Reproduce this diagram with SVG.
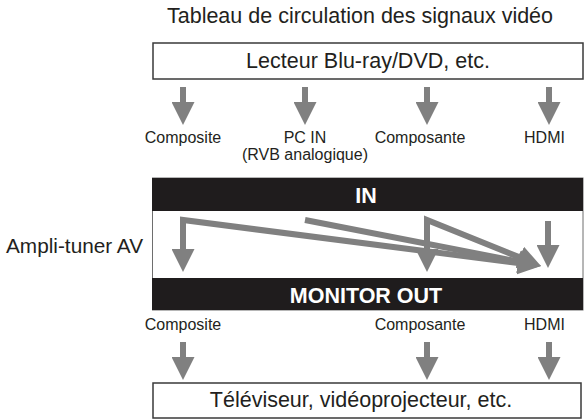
<svg xmlns="http://www.w3.org/2000/svg" width="587" height="420" viewBox="0 0 587 420">
  <style>
    text { font-family: "Liberation Sans", Arial, sans-serif; fill: #231f20; }
    .title { font-size: 21.5px; text-anchor: middle; }
    .big { font-size: 21.5px; text-anchor: middle; }
    .lbl { font-size: 16px; text-anchor: middle; }
    .band { font-size: 21.5px; font-weight: bold; fill: #ffffff; text-anchor: middle; }
    .box { fill: #ffffff; stroke: #3a3a3a; stroke-width: 1.5; }
    .bandrect { fill: #1f1c1d; }
    .arr { fill: none; stroke: #808080; stroke-width: 6; stroke-linejoin: miter; marker-end: url(#head); }
    .arr2 { marker-start: url(#head); }
  </style>
  <defs>
    <marker id="head" viewBox="0 0 23 23" markerUnits="userSpaceOnUse" markerWidth="23" markerHeight="23" refX="2" refY="11.5" orient="auto-start-reverse">
      <path d="M0,0 L23,11.5 L0,23 z" fill="#808080"/>
    </marker>
  </defs>

  <text class="title" x="360" y="23">Tableau de circulation des signaux vidéo</text>

  <g id="source">
    <rect class="box" x="153" y="43" width="430" height="36"/>
    <text class="big" x="368" y="68">Lecteur Blu-ray/DVD, etc.</text>
  </g>

  <g id="input-labels">
    <text class="lbl" x="183" y="143">Composite</text>
    <text class="lbl" x="305" y="143">PC IN</text>
    <text class="lbl" x="305" y="160">(RVB analogique)</text>
    <text class="lbl" x="420" y="143">Composante</text>
    <text class="lbl" x="544.5" y="143">HDMI</text>
  </g>

  <g id="amplifier">
    <text x="6" y="253" font-size="21" textLength="137" lengthAdjust="spacingAndGlyphs">Ampli-tuner AV</text>
    <rect x="152.5" y="178" width="430.5" height="132" fill="#ffffff" stroke="#6e6e6e" stroke-width="1"/>
    <rect class="bandrect" x="152" y="178" width="431" height="33"/>
    <text class="band" x="366" y="203">IN</text>
    <rect class="bandrect" x="152" y="278" width="431" height="32"/>
    <text class="band" x="366" y="303">MONITOR OUT</text>
  </g>

  <g id="output-labels">
    <text class="lbl" x="183" y="330">Composite</text>
    <text class="lbl" x="420" y="330">Composante</text>
    <text class="lbl" x="544.5" y="330">HDMI</text>
  </g>

  <g id="sink">
    <rect class="box" x="153" y="383" width="428" height="35"/>
    <text class="big" x="361" y="407">Téléviseur, vidéoprojecteur, etc.</text>
  </g>

  <g id="connectors">
    <!-- source to inputs -->
    <line class="arr" x1="183" y1="87" x2="183" y2="104"/>
    <line class="arr" x1="305" y1="87" x2="305" y2="104"/>
    <line class="arr" x1="427" y1="87" x2="427" y2="104"/>
    <line class="arr" x1="549" y1="87" x2="549" y2="104"/>
    <!-- internal routing -->
    <path class="arr arr2" d="M183,251 L183,220 L520.2,263.3"/>
    <line class="arr" x1="305" y1="220" x2="520.4" y2="262"/>
    <path class="arr arr2" d="M427,251 L427,220 L521.5,258.1"/>
    <line class="arr" x1="548" y1="221" x2="548" y2="247"/>
    <!-- outputs to sink -->
    <line class="arr" x1="183" y1="342" x2="183" y2="359"/>
    <line class="arr" x1="427" y1="342" x2="427" y2="359"/>
    <line class="arr" x1="549" y1="342" x2="549" y2="359"/>
  </g>
</svg>
